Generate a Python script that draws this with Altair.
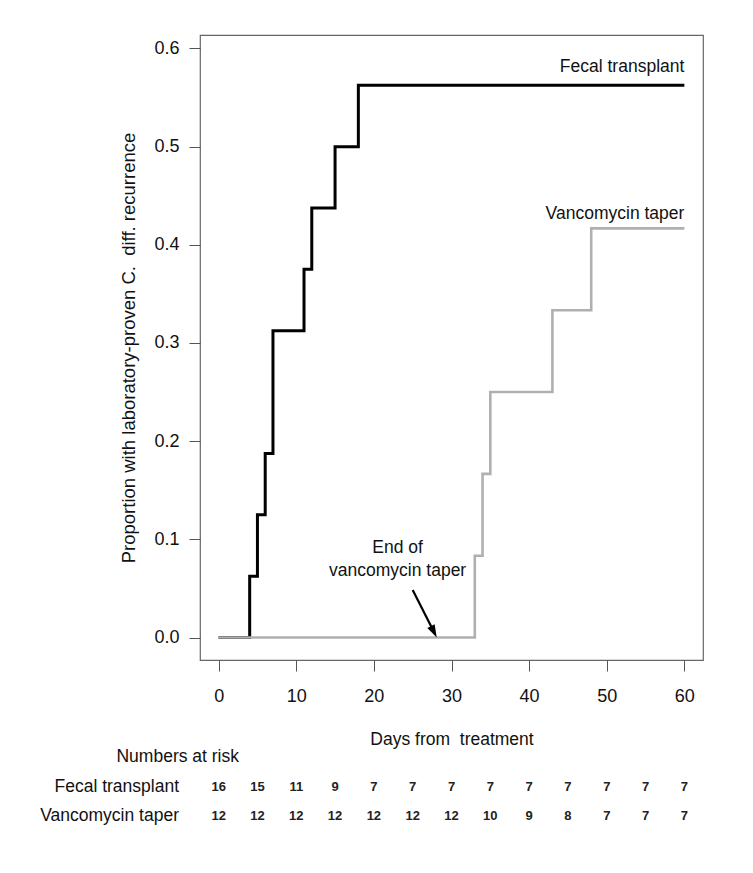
import altair as alt
import pandas as pd

# ---- data ----
fecal_days = [0, 4, 5, 6, 7, 11, 12, 15, 18, 60]
fecal_prop = [0.0, 0.0625, 0.125, 0.1875, 0.3125, 0.375, 0.4375, 0.5, 0.5625, 0.5625]
vanco_days = [0, 33, 34, 35, 43, 48, 60]
vanco_prop = [0.0, 0.0833, 0.1667, 0.25, 0.3333, 0.4167, 0.4167]

risk_days = [0, 5, 10, 15, 20, 25, 30, 35, 40, 45, 50, 55, 60]
risk_fecal = [16, 15, 11, 9, 7, 7, 7, 7, 7, 7, 7, 7, 7]
risk_vanco = [12, 12, 12, 12, 12, 12, 12, 10, 9, 8, 7, 7, 7]

x_ticks = [0, 10, 20, 30, 40, 50, 60]
y_ticks = [0.0, 0.1, 0.2, 0.3, 0.4, 0.5, 0.6]

FONT = "Liberation Sans"
W, H = 503, 625
X_DOM = [-2.4, 62.4]
Y_DOM = [-0.0229, 0.6137]

xs = alt.Scale(domain=X_DOM, nice=False, zero=False)
ys = alt.Scale(domain=Y_DOM, nice=False, zero=False)

fecal_df = pd.DataFrame({"day": fecal_days, "p": fecal_prop})
vanco_df = pd.DataFrame({"day": vanco_days, "p": vanco_prop})

x_axis = alt.Axis(values=x_ticks, grid=False, domain=False, tickSize=11, tickColor="#555",
                  labelFont=FONT, labelFontSize=18, labelColor="#111", labelPadding=16,
                  title="Days from\u00a0 treatment", titleFont=FONT, titleFontSize=17.5,
                  titleFontWeight="normal", titleColor="#111", titlePadding=25)
y_axis = alt.Axis(values=y_ticks, format=".1f", grid=False, domain=False, tickSize=11,
                  tickColor="#555", labelFont=FONT, labelFontSize=18, labelColor="#111",
                  labelPadding=10,
                  title="Proportion with laboratory-proven C.\u00a0 diff. recurrence",
                  titleFont=FONT, titleFontSize=18.5, titleFontWeight="normal",
                  titleColor="#111", titlePadding=15)

fecal_line = alt.Chart(fecal_df).mark_line(interpolate="step-after", color="black",
                                           strokeWidth=3).encode(
    x=alt.X("day:Q", scale=xs, axis=x_axis),
    y=alt.Y("p:Q", scale=ys, axis=y_axis),
)
vanco_line = alt.Chart(vanco_df).mark_line(interpolate="step-after", color="#b0b0b0",
                                           strokeWidth=2.6).encode(
    x=alt.X("day:Q", scale=xs),
    y=alt.Y("p:Q", scale=ys),
)

# labels for curves
curve_lab = pd.DataFrame({"day": [60, 60], "p": [0.581, 0.431],
                          "t": ["Fecal transplant", "Vancomycin taper"]})
curve_text = alt.Chart(curve_lab).mark_text(align="right", baseline="middle", font=FONT,
                                            fontSize=17.5, color="#111").encode(
    x=alt.X("day:Q", scale=xs), y=alt.Y("p:Q", scale=ys), text="t:N")

# arrow annotation
ann = pd.DataFrame({"day": [23.06, 23.06], "p": [0.091, 0.068],
                    "t": ["End of", "vancomycin taper"]})
ann_text = alt.Chart(ann).mark_text(align="center", baseline="middle", font=FONT,
                                    fontSize=17.5, color="#111").encode(
    x=alt.X("day:Q", scale=xs), y=alt.Y("p:Q", scale=ys), text="t:N")

arrow_df = pd.DataFrame({"x1": [25.0], "y1": [0.0484], "x2": [27.6], "y2": [0.008]})
tip_df = pd.DataFrame({"x2": [28.1], "y2": [0.0]})
arrow_line = alt.Chart(arrow_df).mark_rule(color="black", strokeWidth=2.2).encode(
    x=alt.X("x1:Q", scale=xs), y=alt.Y("y1:Q", scale=ys), x2="x2:Q", y2="y2:Q")
arrow_head = alt.Chart(tip_df).mark_point(
    shape="M0,0 L-0.45,-1.4 L0.45,-1.4 Z", filled=True, color="black", opacity=1,
    size=330, angle=333).encode(
    x=alt.X("x2:Q", scale=xs), y=alt.Y("y2:Q", scale=ys))

# numbers at risk
risk_df = pd.DataFrame({"day": risk_days * 2,
                        "n": risk_fecal + risk_vanco,
                        "row": ["Fecal transplant"] * len(risk_days) + ["Vancomycin taper"] * len(risk_days)})
risk_f = alt.Chart(risk_df[risk_df.row == "Fecal transplant"]).mark_text(
    align="center", baseline="middle", font=FONT, fontSize=13, fontWeight="bold",
    color="#222", y=752).encode(x=alt.X("day:Q", scale=xs), text="n:Q")
risk_v = alt.Chart(risk_df[risk_df.row == "Vancomycin taper"]).mark_text(
    align="center", baseline="middle", font=FONT, fontSize=13, fontWeight="bold",
    color="#222", y=781).encode(x=alt.X("day:Q", scale=xs), text="n:Q")

row_labels = pd.DataFrame({"t": ["Numbers at risk", "Fecal transplant", "Vancomycin taper"],
                           "xp": [39, -21, -21], "yp": [722, 752, 781]})
row_text = alt.Chart(row_labels).mark_text(align="right", baseline="middle", font=FONT,
                                           fontSize=17.5, color="#111").encode(
    x=alt.X("xp:Q", scale=None), y=alt.Y("yp:Q", scale=None), text="t:N")

chart = alt.layer(fecal_line, vanco_line, curve_text, ann_text, arrow_line, arrow_head,
                  risk_f, risk_v, row_text).properties(
    width=W, height=H,
    autosize=alt.AutoSizeParams(type="none"),
    padding={"left": 192, "top": 27, "right": 40, "bottom": 200},
    background="white",
).configure_view(stroke="#666", strokeWidth=1.2)

chart.save("out.html", embed_options={"renderer": "svg", "actions": False})
